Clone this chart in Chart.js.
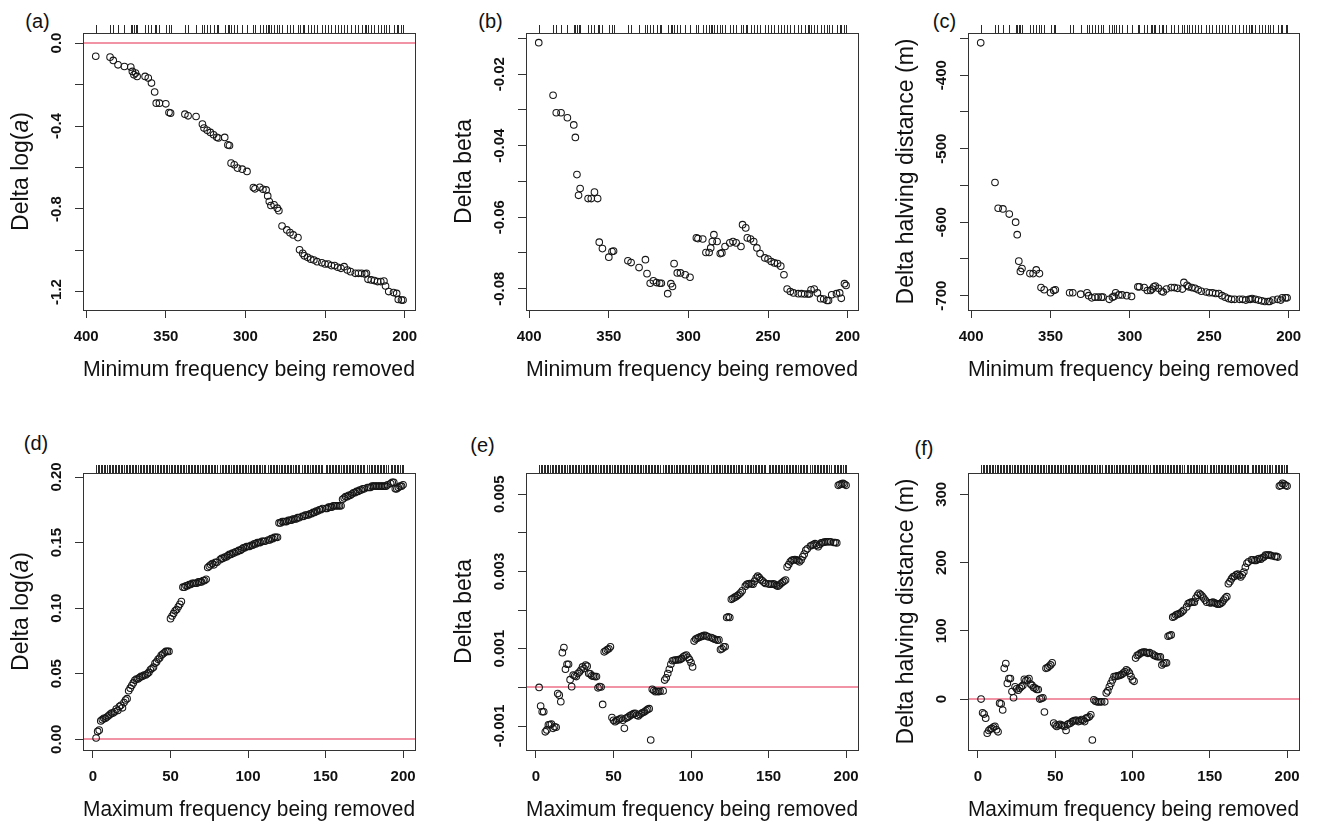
<!DOCTYPE html>
<html><head><meta charset="utf-8">
<script src="https://cdn.jsdelivr.net/npm/chart.js@4.4.0/dist/chart.umd.min.js"></script>
<style>
html,body{margin:0;padding:0;background:#fff;width:1320px;height:821px;overflow:hidden;position:relative;}
canvas{position:absolute;}
.lab{position:absolute;font-family:'Liberation Sans',Arial,sans-serif;font-size:20px;color:#111;transform:translate(-50%,-50%);line-height:1;white-space:nowrap;}
</style></head><body>
<div class="lab" style="left:37.5px;top:21px">(a)</div>
<div class="lab" style="left:490.5px;top:21px">(b)</div>
<div class="lab" style="left:944.5px;top:21px">(c)</div>
<div class="lab" style="left:36px;top:443px">(d)</div>
<div class="lab" style="left:482.5px;top:445px">(e)</div>
<div class="lab" style="left:924px;top:448px">(f)</div>
<script>
// ---------- DATA ----------
// Top row: minimum frequency being removed (shared x)
const xTop = [394,385,383,380,376,372,371,370,369,368,363,361,359,357,356,354,350,348,347,338,
  336,331,327,326,324,322,320,318,317,313,311,310,309,307,305,302,299,295,294,291,
  289,287,286,285,284,282,280,279,277,274,272,270,267,266,264,263,261,259,257,255,
  252,250,248,246,244,242,240,238,236,234,231,229,227,225,224,223,221,219,217,215,
  213,212,210,207,205,204,202,201];
const yA = [-0.064,-0.068,-0.084,-0.105,-0.113,-0.116,-0.137,-0.153,-0.145,-0.161,
  -0.161,-0.169,-0.193,-0.236,-0.290,-0.290,-0.293,-0.335,-0.338,-0.343,
  -0.351,-0.354,-0.391,-0.410,-0.421,-0.431,-0.442,-0.454,-0.458,-0.455,
  -0.491,-0.494,-0.579,-0.587,-0.603,-0.608,-0.619,-0.697,-0.703,-0.695,
  -0.705,-0.708,-0.737,-0.764,-0.783,-0.780,-0.796,-0.808,-0.882,-0.901,
  -0.914,-0.925,-0.938,-0.997,-1.014,-1.026,-1.033,-1.042,-1.046,-1.054,
  -1.059,-1.065,-1.065,-1.073,-1.073,-1.081,-1.086,-1.078,-1.094,-1.102,
  -1.110,-1.110,-1.110,-1.113,-1.110,-1.139,-1.142,-1.145,-1.150,-1.150,
  -1.147,-1.171,-1.198,-1.203,-1.207,-1.236,-1.239,-1.239];
const yB = [-0.0112,-0.0259,-0.0308,-0.0308,-0.0322,-0.0342,-0.0377,-0.0481,-0.0539,-0.0520,
  -0.0548,-0.0548,-0.0530,-0.0548,-0.0670,-0.0688,-0.0712,-0.0696,-0.0695,-0.0722,
  -0.0727,-0.0741,-0.0719,-0.0758,-0.0785,-0.0778,-0.0783,-0.0785,-0.0785,-0.0814,
  -0.0786,-0.0794,-0.0730,-0.0756,-0.0756,-0.0761,-0.0768,-0.0658,-0.0660,-0.0661,
  -0.0699,-0.0699,-0.0686,-0.0668,-0.0649,-0.0668,-0.0702,-0.0700,-0.0682,-0.0672,
  -0.0668,-0.0672,-0.0682,-0.0621,-0.0630,-0.0658,-0.0661,-0.0668,-0.0686,-0.0702,
  -0.0714,-0.0717,-0.0724,-0.0728,-0.0730,-0.0737,-0.0761,-0.0801,-0.0808,-0.0812,
  -0.0814,-0.0814,-0.0815,-0.0815,-0.0815,-0.0803,-0.0801,-0.0812,-0.0828,-0.0829,
  -0.0833,-0.0833,-0.0817,-0.0814,-0.0812,-0.0827,-0.0786,-0.0791];
const yC = [-356,-546,-581,-582,-589,-600,-617,-653,-667,-663,
  -670,-670,-665,-670,-689,-692,-696,-693,-692,-696,
  -696,-698,-696,-700,-703,-702,-702,-702,-702,-705,
  -702,-701,-696,-699,-699,-700,-701,-688,-688,-689,
  -693,-693,-691,-688,-687,-690,-694,-695,-691,-689,
  -689,-690,-691,-682,-686,-688,-689,-690,-692,-694,
  -695,-696,-696,-697,-697,-700,-702,-704,-705,-705,
  -705,-705,-706,-705,-705,-704,-705,-706,-707,-708,
  -708,-708,-706,-705,-706,-703,-703,-703];

// Bottom row: maximum frequency being removed (shared x)
const xBot = [2,3,4,5,6,7,8,9,10,11,12,13,14,15,16,17,18,19,20,21,22,23,24,25,26,27,28,29,30,31,
  32,33,34,35,36,37,38,39,40,41,42,43,44,45,46,47,48,49,50,51,52,53,54,55,56,57,58,59,60,61,
  62,63,64,65,66,67,68,69,70,71,72,73,74,75,76,77,78,79,80,
  82,83,84,85,86,87,88,89,90,91,92,93,94,95,96,97,98,99,100,101,102,103,104,105,106,107,108,109,110,111,
  113,114,115,116,117,118,119,120,121,122,123,124,125,126,127,128,129,130,131,132,133,
  135,136,137,138,139,140,141,142,143,144,145,146,147,148,
  150,151,152,153,154,155,156,157,158,159,160,161,162,163,164,165,166,167,168,169,170,171,172,173,174,175,
  177,178,179,180,181,182,183,184,185,186,187,188,189,190,
  192,193,194,195,196,197,198,199,200];
const yD = [0.001,0.006,0.007,0.014,0.015,0.016,0.016,0.017,0.018,0.019,
  0.020,0.020,0.021,0.023,0.022,0.025,0.026,0.024,0.028,0.030,
  0.031,0.037,0.039,0.041,0.043,0.045,0.046,0.046,0.047,0.048,
  0.048,0.049,0.049,0.050,0.051,0.053,0.054,0.055,0.058,0.059,
  0.061,0.062,0.064,0.065,0.066,0.067,0.067,0.067,0.092,0.094,
  0.096,0.098,0.099,0.101,0.103,0.105,0.116,0.116,0.117,0.117,
  0.118,0.118,0.119,0.119,0.119,0.119,0.120,0.120,0.120,0.121,
  0.121,0.122,0.131,0.132,0.133,0.134,0.133,0.135,0.135,
  0.137,0.138,0.138,0.139,0.139,0.140,0.141,0.141,0.142,0.142,
  0.143,0.143,0.144,0.144,0.145,0.146,0.146,0.147,0.147,0.147,
  0.148,0.148,0.149,0.149,0.150,0.150,0.150,0.151,0.151,0.151,
  0.152,0.152,0.153,0.153,0.154,0.154,0.154,0.165,0.165,0.166,
  0.166,0.166,0.166,0.167,0.167,0.167,0.168,0.168,0.168,0.169,0.169,
  0.170,0.170,0.171,0.171,0.171,0.172,0.172,0.173,0.173,0.174,0.174,0.175,0.175,0.176,
  0.176,0.176,0.177,0.177,0.177,0.178,0.178,0.178,0.178,0.178,0.178,0.183,0.184,0.185,0.185,0.186,0.186,0.187,0.188,0.188,0.189,0.189,0.190,0.190,0.191,0.191,
  0.192,0.192,0.192,0.193,0.193,0.193,0.193,0.193,0.193,0.193,0.193,0.193,0.193,0.194,
  0.195,0.196,0.196,0.191,0.191,0.192,0.193,0.193,0.194];
const yE = [0.00000,-0.00048,-0.00063,-0.00063,-0.00115,-0.00110,-0.00097,-0.00096,-0.00095,-0.00106,
  -0.00102,-0.00103,-0.00016,-0.00020,-0.00037,0.00090,0.00103,0.00047,0.00060,0.00060,
  0.00020,0.00002,0.00032,0.00030,0.00028,0.00036,0.00040,0.00045,0.00053,0.00049,
  0.00058,0.00055,0.00036,0.00035,0.00030,0.00029,0.00028,0.00028,-0.00001,0.00002,
  0.00001,-0.00044,0.00092,0.00095,0.00098,0.00100,0.00105,-0.00078,-0.00085,-0.00089,
  -0.00086,-0.00084,-0.00082,-0.00080,-0.00085,-0.00106,-0.00080,-0.00078,-0.00075,-0.00072,
  -0.00070,-0.00068,-0.00067,-0.00072,-0.00074,-0.00070,-0.00067,-0.00065,-0.00063,-0.00060,
  -0.00057,-0.00055,-0.00136,-0.00005,-0.00008,-0.00011,-0.00010,-0.00011,-0.00010,
  -0.00009,0.00019,0.00025,0.00036,0.00047,0.00060,0.00069,0.00070,0.00071,0.00071,
  0.00072,0.00072,0.00075,0.00079,0.00082,0.00084,0.00078,0.00072,0.00064,0.00053,
  0.00120,0.00125,0.00127,0.00129,0.00131,0.00132,0.00134,0.00135,0.00133,0.00131,
  0.00129,0.00127,0.00125,0.00124,0.00122,0.00123,0.00098,0.00100,0.00105,0.00105,
  0.00181,0.00183,0.00181,0.00228,0.00230,0.00233,0.00235,0.00238,0.00241,0.00245,0.00250,
  0.00262,0.00267,0.00268,0.00269,0.00268,0.00267,0.00275,0.00283,0.00288,0.00284,0.00279,0.00276,0.00272,0.00269,
  0.00268,0.00267,0.00267,0.00268,0.00267,0.00264,0.00262,0.00265,0.00269,0.00272,0.00275,0.00278,0.00312,0.00318,0.00325,0.00329,0.00330,0.00331,0.00330,0.00328,0.00325,0.00330,0.00338,0.00345,0.00355,0.00359,
  0.00366,0.00368,0.00370,0.00372,0.00368,0.00364,0.00370,0.00374,0.00375,0.00376,0.00377,0.00377,0.00377,0.00377,
  0.00375,0.00375,0.00374,0.00523,0.00525,0.00527,0.00528,0.00526,0.00523];
const yF = [0,-20,-22,-28,-50,-46,-44,-43,-41,-40,
  -45,-48,-6,-7,-16,45,52,23,30,30,
  11,2,18,15,13,16,18,20,29,27,
  28,30,22,20,17,16,14,14,0,1,
  2,-19,45,46,48,50,53,-35,-38,-40,
  -38,-37,-38,-39,-40,-46,-37,-36,-35,-33,
  -32,-31,-31,-33,-32,-30,-31,-33,-28,-27,
  -26,-23,-60,-1,-3,-4,-4,-4,-4,
  -4,9,12,18,23,28,33,33,34,34,
  35,36,38,40,43,41,38,33,28,26,
  60,64,65,67,68,69,69,68,67,68,
  66,64,63,62,62,62,50,52,53,53,
  92,93,94,120,121,123,124,125,126,128,130,
  135,140,141,142,142,142,148,152,155,153,151,148,145,142,
  141,141,142,141,140,139,139,140,142,145,148,150,169,172,176,179,180,182,183,181,179,182,186,193,199,201,
  204,204,203,203,205,206,205,207,208,211,211,211,211,210,
  209,209,208,312,313,316,315,313,312];

// Tick values and labels
const xTicksTop = [400,350,300,250,200];
const xTicksBot = [0,50,100,150,200];
const yTicksA = [0,-0.2,-0.4,-0.6,-0.8,-1.0,-1.2];
const yLabelsA = ['0.0','','-0.4','','-0.8','','-1.2'];
const yTicksB = [-0.01,-0.02,-0.03,-0.04,-0.05,-0.06,-0.07,-0.08];
const yLabelsB = ['','-0.02','','-0.04','','-0.06','','-0.08'];
const yTicksC = [-350,-400,-450,-500,-550,-600,-650,-700];
const yLabelsC = ['','-400','','-500','','-600','','-700'];
const yTicksD = [0,0.05,0.10,0.15,0.20];
const yLabelsD = ['0.00','0.05','0.10','0.15','0.20'];
const yTicksE = [-0.001,0,0.001,0.002,0.003,0.004,0.005];
const yLabelsE = ['-0.001','','0.001','','0.003','','0.005'];
const yTicksF = [0,100,200,300];
const yLabelsF = ['0','100','200','300'];

const xTitleTop = 'Minimum frequency being removed';
const xTitleBot = 'Maximum frequency being removed';
const yTitleLogA = [['Delta log(',false],['a',true],[')',false]];
const yTitleBeta = [['Delta beta',false]];
const yTitleHalf = [['Delta halving distance (m)',false]];

// ---------- LAYOUT ----------
const FONT = "'Liberation Sans', Arial, sans-serif";
const H = 383, PT = 33, PH = 277, YW = 83;

const panels = [
  {left:0,   top:0,   bw:332, xs:xTop, ys:yA, xr:[193.5,402], rev:true,  yr:[-1.2869,0.0483], xt:xTicksTop, yt:yTicksA, yl:yLabelsA, xTitle:xTitleTop, yTitle:yTitleLogA, zero:true},
  {left:443, top:0,   bw:332, xs:xTop, ys:yB, xr:[193.5,402], rev:true,  yr:[-0.08597,-0.00849], xt:xTicksTop, yt:yTicksB, yl:yLabelsB, xTitle:xTitleTop, yTitle:yTitleBeta, zero:false},
  {left:885, top:0,   bw:331, xs:xTop, ys:yC, xr:[193.5,402], rev:true,  yr:[-719.5,-342.6], xt:xTicksTop, yt:yTicksC, yl:yLabelsC, xTitle:xTitleTop, yTitle:yTitleHalf, zero:false},
  {left:0,   top:440, bw:332, xs:xBot, ys:yD, xr:[-6.45,207.7], rev:false, yr:[-0.00815,0.20305], xt:xTicksBot, yt:yTicksD, yl:yLabelsD, xTitle:xTitleBot, yTitle:yTitleLogA, zero:true},
  {left:443, top:440, bw:332, xs:xBot, ys:yE, xr:[-6.45,207.7], rev:false, yr:[-0.00162,0.00555], xt:xTicksBot, yt:yTicksE, yl:yLabelsE, xTitle:xTitleBot, yTitle:yTitleBeta, zero:true},
  {left:885, top:440, bw:331, xs:xBot, ys:yF, xr:[-6.45,207.7], rev:false, yr:[-74.6,331.2], xt:xTicksBot, yt:yTicksF, yl:yLabelsF, xTitle:xTitleBot, yTitle:yTitleHalf, zero:true}
];

const decorPlugin = {
  id: 'decor',
  beforeDatasetsDraw(chart) {
    const p = chart.options.plugins.decor;
    const {ctx, chartArea: a} = chart;
    if (p.zero) {
      const y0 = Math.round(chart.scales.y.getPixelForValue(0));
      ctx.save();
      ctx.strokeStyle = 'rgb(236,110,135)';
      ctx.lineWidth = 1.6;
      ctx.beginPath(); ctx.moveTo(a.left, y0); ctx.lineTo(a.right, y0); ctx.stroke();
      ctx.restore();
    }
  },
  afterDraw(chart) {
    const p = chart.options.plugins.decor;
    const {ctx, chartArea: a} = chart;
    const xs = chart.scales.x, ys = chart.scales.y;
    ctx.save();
    // box
    ctx.strokeStyle = '#333'; ctx.lineWidth = 1;
    ctx.strokeRect(Math.round(a.left) + 0.5, Math.round(a.top) + 0.5, Math.round(a.right - a.left), Math.round(a.bottom - a.top));
    // rug
    ctx.strokeStyle = '#2a2a2a'; ctx.lineWidth = 1;
    ctx.beginPath();
    p.xs.forEach(v => {
      const px = Math.round(xs.getPixelForValue(v)) + 0.5;
      ctx.moveTo(px, a.top - 8); ctx.lineTo(px, a.top);
    });
    ctx.stroke();
    // y tick labels (rotated)
    ctx.fillStyle = '#111';
    ctx.font = 'bold 15px ' + FONT;
    ctx.textAlign = 'center'; ctx.textBaseline = 'middle';
    p.yt.forEach((v, i) => {
      const lab = p.yl[i];
      if (!lab) return;
      ctx.save();
      ctx.translate(a.left - 26, ys.getPixelForValue(v));
      ctx.rotate(-Math.PI / 2);
      ctx.fillText(lab, 0, 0);
      ctx.restore();
    });
    // y title (rotated, mixed italic)
    ctx.save();
    ctx.translate(a.left - 61, (a.top + a.bottom) / 2);
    ctx.rotate(-Math.PI / 2);
    ctx.textAlign = 'left'; ctx.textBaseline = 'middle';
    ctx.fillStyle = '#111';
    let total = 0;
    p.yTitle.forEach(s => { ctx.font = (s[1] ? 'italic ' : '') + '23px ' + FONT; total += ctx.measureText(s[0]).width; });
    let cx = -total / 2;
    p.yTitle.forEach(s => { ctx.font = (s[1] ? 'italic ' : '') + '23px ' + FONT; ctx.fillText(s[0], cx, 0); cx += ctx.measureText(s[0]).width; });
    ctx.restore();
    ctx.restore();
  }
};

panels.forEach(p => {
  const W = YW + p.bw + 20;
  const cv = document.createElement('canvas');
  cv.width = W; cv.height = H;
  cv.style.left = p.left + 'px'; cv.style.top = p.top + 'px';
  cv.style.width = W + 'px'; cv.style.height = H + 'px';
  document.body.appendChild(cv);
  const pts = p.xs.map((x, i) => ({x: x, y: p.ys[i]}));
  new Chart(cv.getContext('2d'), {
    type: 'scatter',
    data: {datasets: [{
      data: pts,
      pointRadius: 3.3, pointHoverRadius: 3.3, pointBorderWidth: 1.05,
      pointBorderColor: '#161616', pointBackgroundColor: 'rgba(0,0,0,0)',
      borderColor: '#161616', backgroundColor: 'rgba(0,0,0,0)', showLine: false
    }]},
    options: {
      responsive: false, animation: false, devicePixelRatio: 1, events: [],
      layout: {padding: {left: 0, top: PT, right: W - YW - p.bw, bottom: 0}},
      plugins: {
        legend: {display: false}, tooltip: {enabled: false},
        decor: {zero: p.zero, xs: p.xs, yt: p.yt, yl: p.yl, yTitle: p.yTitle}
      },
      scales: {
        x: {
          type: 'linear', position: 'bottom', min: p.xr[0], max: p.xr[1], reverse: p.rev,
          afterBuildTicks: s => { s.ticks = p.xt.map(v => ({value: v})); },
          afterFit: s => { s.height = H - PT - PH; },
          ticks: {font: {family: FONT, size: 15, weight: 'bold'}, color: '#111', padding: 10, maxRotation: 0, minRotation: 0, autoSkip: false, callback: v => String(v)},
          grid: {display: true, drawOnChartArea: false, drawTicks: true, tickLength: 8, color: '#333', lineWidth: 1},
          border: {display: true, color: '#333', width: 1},
          title: {display: true, text: p.xTitle, font: {family: FONT, size: 22}, color: '#111', padding: {top: 0, bottom: 0}}
        },
        y: {
          type: 'linear', position: 'left', min: p.yr[0], max: p.yr[1],
          afterBuildTicks: s => { s.ticks = p.yt.map(v => ({value: v})); },
          afterFit: s => { s.width = YW; },
          ticks: {display: false},
          grid: {display: true, drawOnChartArea: false, drawTicks: true, tickLength: 8, color: '#333', lineWidth: 1},
          border: {display: true, color: '#333', width: 1},
          title: {display: false}
        }
      }
    },
    plugins: [decorPlugin]
  });
});
</script>
</body></html>
